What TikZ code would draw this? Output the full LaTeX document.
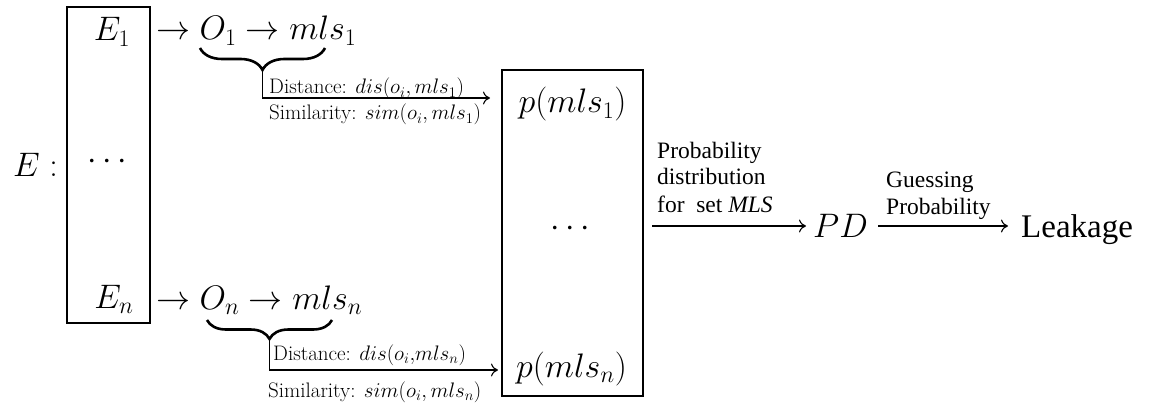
\RequirePackage{fix-cm}
\documentclass[tikz,border=0pt]{standalone}
\usepackage{fontspec}
\newfontfamily\tnr{Liberation Serif}
\usetikzlibrary{decorations.pathreplacing,arrows.meta}
\begin{document}
\begin{tikzpicture}[x=1pt,y=1pt,
  box/.style={draw, line width=1.2pt, inner sep=0pt},
  mth/.style={inner sep=0pt, font=\fontsize{34}{40}\selectfont},
  lbl/.style={inner sep=0pt, font=\fontsize{21}{25}\selectfont},
  tlbl/.style={inner sep=0pt, font=\tnr\fontsize{23.5}{27}\selectfont},
  big/.style={inner sep=0pt, font=\tnr\fontsize{33}{38}\selectfont},
  arr/.style={line width=1.1pt, -{Computer Modern Rightarrow[length=7pt,width=13pt]}},
  brc/.style={decorate, decoration={brace, amplitude=22pt}, line width=2.6pt},
]
\useasboundingbox (0,0) rectangle (1154,405);
% left box
\node[box, minimum width=83pt, minimum height=316pt] (Ebox) at (108.5,240) {};
\node[mth, anchor=base] (E1) at (112,364) {$E_1$};
\node[mth, anchor=base] (Ed) at (107,235.5) {$\cdots$};
\node[mth, anchor=base] (En) at (114,97) {$E_n$};
\node[mth, anchor=base west] (E) at (13,229) {$E:$};
% row 1
\node[mth, anchor=base west] (r1) at (156,365) {$\to O_1 \to mls_1$};
\coordinate (b1a) at (325,357);
\coordinate (b1b) at (200,357);
\draw[brc] (b1a) -- (b1b);
\coordinate (t1) at (262.5,335);
\coordinate (a1) at (490,307);
\draw[arr] (t1) |- (a1);
\node[lbl, anchor=base west] (d1) at (269,311) {Distance: $dis(o_i, mls_1)$};
\node[lbl, anchor=base west] (s1) at (269,285) {Similarity: $sim(o_i, mls_1)$};
% row n
\node[mth, anchor=base west] (rn) at (156,96) {$\to O_n \to mls_n$};
\coordinate (bna) at (332,85);
\coordinate (bnb) at (207,85);
\draw[brc, decoration={amplitude=19pt}] (bna) -- (bnb);
\coordinate (tn) at (269.5,66);
\coordinate (an) at (498,35);
\draw[arr] (tn) |- (an);
\node[lbl, anchor=base west] (dn) at (273,45) {Distance: $dis(o_i{,}mls_n)$};
\node[lbl, anchor=base west] (sn) at (268,8) {Similarity: $sim(o_i, mls_n)$};
% probability box
\node[box, minimum width=141pt, minimum height=326pt] (Pbox) at (572.5,172) {};
\node[mth, anchor=base] (p1) at (572.5,292) {$p(mls_1)$};
\node[mth, anchor=base] (pd) at (570,168.5) {$\cdots$};
\node[mth, anchor=base] (pn) at (571.5,28) {$p(mls_n)$};
% right part
\node[mth, anchor=base west] (PD) at (813,168) {$PD$};
\node[big, anchor=base west] (L) at (1021,168) {Leakage};
\coordinate (a2s) at (652,179);
\draw[arr] (a2s) -- ([xshift=-7pt]PD.west |- a2s);
\draw[arr] ([xshift=10pt]PD.east |- a2s) -- ([xshift=-13pt]L.west |- a2s);
\node[tlbl, anchor=base west] (q1) at (657,247) {Probability};
\node[tlbl, anchor=base west] (q2) at (657,220) {distribution};
\node[tlbl, anchor=base west] (q3) at (657,193) {for~ set \textit{MLS}};
\node[tlbl, anchor=base west] (g1) at (886,218) {Guessing};
\node[tlbl, anchor=base west] (g2) at (886,191) {Probability};
\end{tikzpicture}
\end{document}
